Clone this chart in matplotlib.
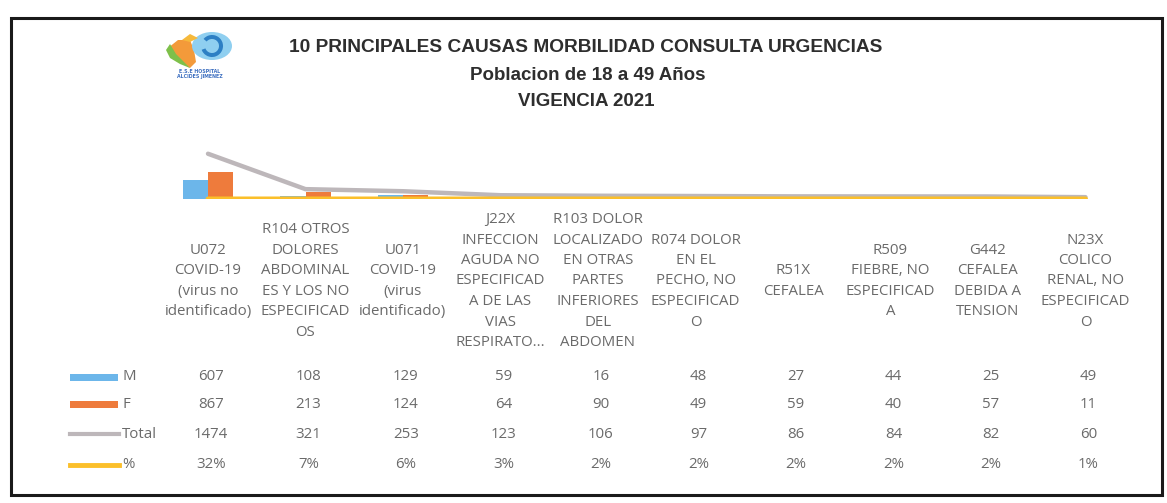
import numpy as np
import matplotlib
matplotlib.use("Agg")
import matplotlib.pyplot as plt
from matplotlib.patches import Rectangle, Ellipse, Polygon, Wedge
from matplotlib.lines import Line2D
from matplotlib.transforms import blended_transform_factory

# data
categories = [
    "U072\nCOVID-19\n(virus no\nidentificado)",
    "R104 OTROS\nDOLORES\nABDOMINAL\nES Y LOS NO\nESPECIFICAD\nOS",
    "U071\nCOVID-19\n(virus\nidentificado)",
    "J22X\nINFECCION\nAGUDA NO\nESPECIFICAD\nA DE LAS\nVIAS\nRESPIRATO...",
    "R103 DOLOR\nLOCALIZADO\nEN OTRAS\nPARTES\nINFERIORES\nDEL\nABDOMEN",
    "R074 DOLOR\nEN EL\nPECHO, NO\nESPECIFICAD\nO",
    "R51X\nCEFALEA",
    "R509\nFIEBRE, NO\nESPECIFICAD\nA",
    "G442\nCEFALEA\nDEBIDA A\nTENSION",
    "N23X\nCOLICO\nRENAL, NO\nESPECIFICAD\nO",
]
m_vals = [607, 108, 129, 59, 16, 48, 27, 44, 25, 49]
f_vals = [867, 213, 124, 64, 90, 49, 59, 40, 57, 11]
total_vals = [1474, 321, 253, 123, 106, 97, 86, 84, 82, 60]
pct_vals = [0.32, 0.07, 0.06, 0.03, 0.02, 0.02, 0.02, 0.02, 0.02, 0.01]
pct_labels = ["32%", "7%", "6%", "3%", "2%", "2%", "2%", "2%", "2%", "1%"]
row_names = ["M", "F", "Total", "%"]

W, H = 1167, 503
C_M = "#6cb6ea"
C_F = "#ee7b3c"
C_TOT = "#bdb7ba"
C_PCT = "#fbbf2a"
TXT = "#6a6a6a"
FONT = ["Open Sans", "DejaVu Sans"]
TFONT = ["Liberation Sans", "DejaVu Sans"]
FS = 10.8


def fx(px):
    return px / W


def fy(py):
    return 1 - py / H


fig = plt.figure(figsize=(W / 100, H / 100), dpi=100)
fig.patch.set_facecolor("white")

# outer frame
fig.patches.append(Rectangle((fx(11), fy(495)), fx(1162) - fx(11), fy(18) - fy(495),
                             transform=fig.transFigure, fill=False, lw=2.2,
                             ec="#1a1a1a"))

# titles
fig.text(fx(586), fy(47), "10 PRINCIPALES CAUSAS MORBILIDAD CONSULTA URGENCIAS",
         ha="center", va="center", fontsize=13.8, fontweight="bold",
         family=TFONT, color="#2e2e2e")
fig.text(fx(588), fy(76), "Poblacion de 18 a 49 Años", ha="center", va="center",
         fontsize=13.5, fontweight="bold", family=TFONT, color="#2e2e2e")
fig.text(fx(586), fy(102), "VIGENCIA 2021", ha="center", va="center",
         fontsize=13.5, fontweight="bold", family=TFONT, color="#2e2e2e")

# rough logo
lax = fig.add_axes([fx(160), fy(84), fx(86), fy(28) - fy(84)])
lax.set_xlim(0, 86)
lax.set_ylim(0, 56)
lax.axis("off")
lax.add_patch(Polygon([[8, 36], [18, 44], [30, 44], [34, 34], [36, 22], [30, 16],
                       [20, 22], [12, 28]], closed=True, fc="#f39a3a", ec="none"))
lax.add_patch(Polygon([[6, 34], [10, 40], [16, 30], [24, 22], [30, 16], [20, 20],
                       [10, 26]], closed=True, fc="#7ec04a", ec="none"))
lax.add_patch(Ellipse((52, 38), 40, 28, fc="#8fcff0", ec="none"))
lax.add_patch(Wedge((52, 38), 11, 200, 500, width=4, fc="#2c7fc4", ec="none"))
lax.add_patch(Polygon([[22, 44], [30, 50], [38, 46], [30, 42]], closed=True,
                      fc="#f6b93b", ec="none"))
lax.text(40, 10, "E.S.E HOSPITAL\nALCIDES JIMENEZ", ha="center", va="center",
         fontsize=3.4, fontweight="bold", color="#3d6fc0", linespacing=1.0)

# chart area
x = np.arange(len(categories))
x0, step = 208, 97.5
left = x0 - step / 2
ax = fig.add_axes([fx(left), fy(199), fx(step * len(categories)), fy(129) - fy(199)])
ax.set_xlim(-0.5, len(categories) - 0.5)
ax.set_ylim(0, 2280)
ax.axis("off")

bw = 0.26
ax.bar(x - bw / 2, m_vals, bw, color=C_M, zorder=2)
ax.bar(x + bw / 2, f_vals, bw, color=C_F, zorder=2)
ax.plot(x, total_vals, color=C_TOT, lw=3.2, solid_capstyle="round", zorder=3)
ax.plot(x, pct_vals, color=C_PCT, lw=3.6, solid_capstyle="round", zorder=4)

# data table under the chart
tr = blended_transform_factory(ax.transData, fig.transFigure)
for i, lab in enumerate(categories):
    fig.text(x[i], fy(281), lab, transform=tr, ha="center", va="center",
             fontsize=FS, family=FONT, color=TXT, linespacing=1.5,
             multialignment="center")

row_y = [377, 404, 434, 465]
rows = [[str(v) for v in m_vals], [str(v) for v in f_vals],
        [str(v) for v in total_vals], pct_labels]
for r, yy in enumerate(row_y):
    for i in range(len(categories)):
        fig.text(x[i] + 0.03, fy(yy), rows[r][i], transform=tr, ha="center",
                 va="center", fontsize=FS, family=FONT, color=TXT)
    fig.text(fx(122), fy(yy), row_names[r], ha="left", va="center",
             fontsize=FS, family=FONT, color=TXT)

# legend keys in the table
fig.patches.append(Rectangle((fx(70), fy(row_y[0]) - 3.5 / H), fx(48), 7 / H,
                             transform=fig.transFigure, fc=C_M, ec="none"))
fig.patches.append(Rectangle((fx(70), fy(row_y[1]) - 3.5 / H), fx(48), 7 / H,
                             transform=fig.transFigure, fc=C_F, ec="none"))
fig.lines.append(Line2D([fx(70), fx(119)], [fy(row_y[2])] * 2,
                        transform=fig.transFigure, color=C_TOT, lw=3))
fig.lines.append(Line2D([fx(70), fx(119)], [fy(row_y[3])] * 2,
                        transform=fig.transFigure, color=C_PCT, lw=3.5))

fig.savefig("out.png", dpi=100)
